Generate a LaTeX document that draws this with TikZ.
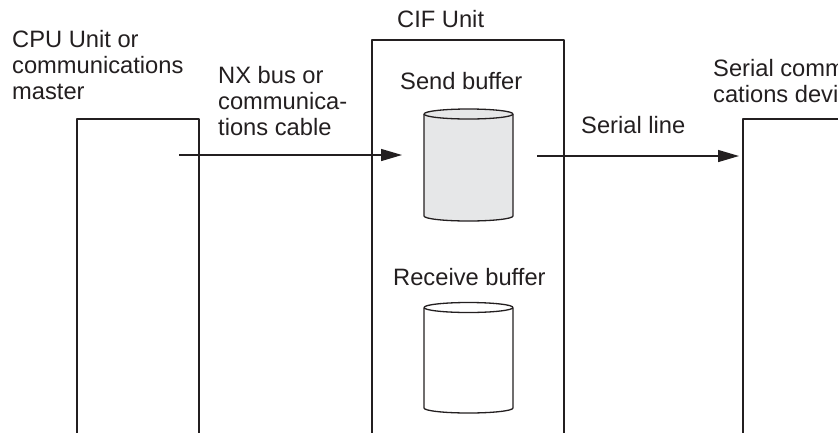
\documentclass[tikz,border=0pt]{standalone}
\usepackage{fontspec}
\setmainfont{Liberation Sans}
\usetikzlibrary{arrows.meta}

\definecolor{ink}{HTML}{231F20}
\definecolor{bufgray}{HTML}{E6E7E8}

\begin{document}
\begin{tikzpicture}[
  x=1pt, y=-1pt,
  line join=round,
  unit/.style={draw=ink, line width=1.6pt, inner sep=0pt, anchor=north west},
  drum/.style={draw=ink, line width=1.3pt},
  lbl/.style={text=ink, font=\fontsize{23.7}{26}\selectfont, align=left,
    inner sep=0pt, anchor=north west},
  arr/.style={draw=ink, line width=1.4pt, -{Triangle[length=21pt, width=12pt]}},
]

\clip (0,0) rectangle (838,432);

% ── the three units, all running off the bottom ─────────────────────────
\node[unit, minimum width=122pt, minimum height=340pt] (cpu) at (76,118) {};
\node[unit, minimum width=192pt, minimum height=420pt] (cif) at (371,39) {};
\node[unit, minimum width=140pt, minimum height=340pt] (dev) at (742,118) {};

% ── the two buffers inside the CIF Unit ─────────────────────────────────
\foreach \cx/\ytop/\ybot/\col in {468.5/114/216/bufgray, 468.5/307.5/408/white} {
  \fill[\col] (\cx-44.5,\ytop) -- (\cx-44.5,\ybot)
    arc[start angle=180, end angle=360, x radius=44.5pt, y radius=5pt]
    -- (\cx+44.5,\ytop) -- cycle;
  \draw[drum] (\cx-44.5,\ytop) -- (\cx-44.5,\ybot)
    arc[start angle=180, end angle=360, x radius=44.5pt, y radius=5pt]
    -- (\cx+44.5,\ytop);
  \filldraw[drum, fill=\col] (\cx,\ytop) ellipse[x radius=44.5pt, y radius=5pt];
}

% ── labels ──────────────────────────────────────────────────────────────
\node[lbl] (cpulbl) at (12,30) {CPU Unit or\\communications\\master};
\node[lbl] (buslbl) at (218,66) {NX bus or\\communica-\\tions cable};
\node[lbl] (ciflbl) at (397,10) {CIF Unit};
\node[lbl] (sendlbl) at (400,72) {Send buffer};
\node[lbl] (recvlbl) at (393,268) {Receive buffer};
\node[lbl] (linelbl) at (581,116) {Serial line};
\node[lbl] (devlbl) at (713,59) {Serial communi-\\cations device};

% ── the two links ───────────────────────────────────────────────────────
\coordinate (busout) at (179,155);
\coordinate (busin) at (402,155);
\coordinate (serout) at (537,156);
\draw[arr] (busout) -- (busin);
\draw[arr, shorten >=3pt] (serout) -- (dev.west |- serout);

\end{tikzpicture}
\end{document}
